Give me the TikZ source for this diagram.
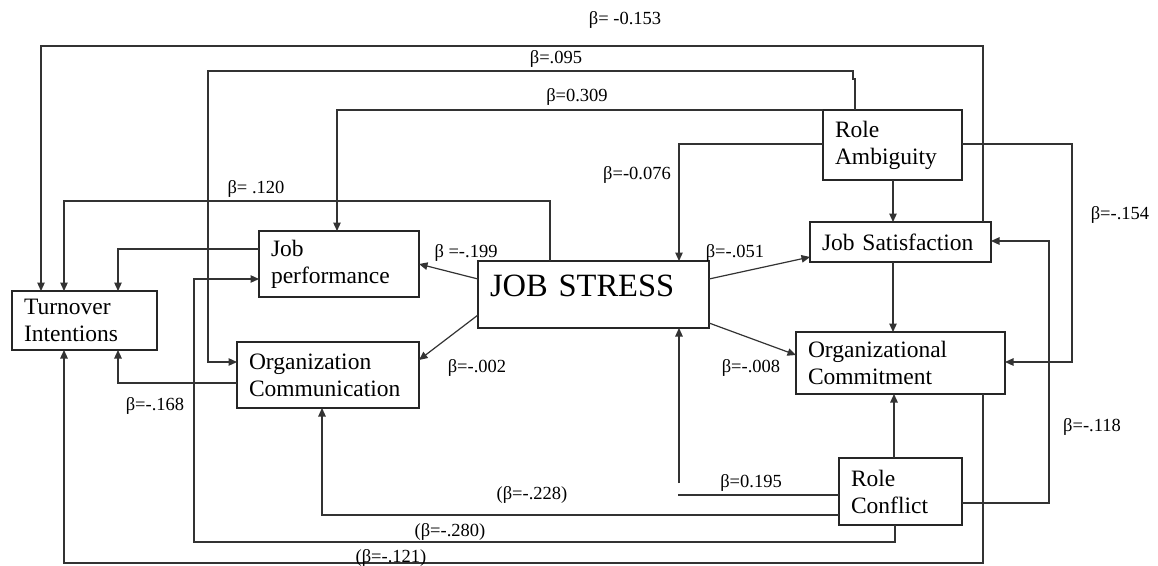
\documentclass[tikz,border=0pt]{standalone}
\usepackage{fontspec}
\setmainfont{Liberation Serif}
\usetikzlibrary{arrows.meta}
\begin{document}
\begin{tikzpicture}[x=1pt,y=-1pt,
  box/.style={draw=black!85, line width=1.2pt, anchor=north west, outer sep=0pt, inner xsep=12pt, inner ysep=0pt, align=left, font=\fontsize{23.5}{27}\selectfont},
  conn/.style={draw=black!80, line width=1.2pt},
  arr/.style={conn, -{Triangle[length=8.5pt,width=7.5pt]}},
  lbl/.style={anchor=base, inner sep=0pt, font=\fontsize{18.5}{20}\selectfont}]
\useasboundingbox[fill=white] (0,0) rectangle (1158,565);

% boxes
\node[box, text width=121pt, minimum height=59pt] (ti) at (12,291) {Turnover\\Intentions};
\node[box, text width=136pt, minimum height=66pt] (jp) at (259,231) {Job\\performance};
\node[box, text width=158pt, minimum height=66pt] (oc) at (237,342) {Organization\\Communication};
\node[box, text width=207pt, minimum height=67pt, font=\fontsize{32.5}{36}\selectfont, text height=22pt, text depth=19pt] (js) at (478,261) {JOB STRESS};
\node[box, text width=115pt, minimum height=70pt] (ra) at (823,110) {Role\\Ambiguity};
\node[box, text width=157pt, minimum height=40pt] (jsat) at (810,222) {Job Satisfaction};
\node[box, text width=185pt, minimum height=62pt] (ocm) at (796,332) {Organizational\\Commitment};
\node[box, text width=99pt, minimum height=67pt] (rc) at (839,458) {Role\\Conflict};

\coordinate (gapend) at (678,495);
\coordinate (gapstart) at (679,483);

% connectors
\draw[arr] (983,0 |- jsat.north) |- (41,46) -- (41,0 |- ti.north);
\draw[arr] (855,0 |- ra.north) -- (855,79) -- (853,79) |- (208,71) |- (oc.west |- 0,362);
\draw[arr] (ra.north west) -- (337,110) -- (337,0 |- jp.north);
\draw[arr] (ra.west |- 0,144) -| (679,0 |- js.north);
\draw[arr] (550,0 |- js.north) |- (64,201) -- (64,0 |- ti.north);
\draw[arr] (jp.west |- 0,249) -| (118,0 |- ti.north);
\draw[arr] (js.west |- 0,279) -- (jp.east |- 0,264);
\draw[arr] (js.west |- 0,315) -- (oc.east |- 0,360);
\draw[arr] (js.east |- 0,279) -- (jsat.west |- 0,257);
\draw[arr] (js.east |- 0,323) -- (ocm.west |- 0,355);
\draw[arr] (893,0 |- ra.south) -- (893,0 |- jsat.north);
\draw[arr] (893,0 |- jsat.south) -- (893,0 |- ocm.north);
\draw[arr] (ra.east |- 0,144) -| (1072,362) -- (ocm.east |- 0,362);
\draw[arr] (rc.east |- 0,503) -| (1049,241) -- (jsat.east |- 0,241);
\draw[arr] (894,0 |- rc.north) -- (894,0 |- ocm.south);
\draw[conn] (rc.west |- gapend) -- (gapend);
\draw[arr] (gapstart) -- (679,0 |- js.south);
\draw[arr] (rc.west |- 0,515) -| (322,0 |- oc.south);
\draw[arr] (895,0 |- rc.south) |- (194,542) |- (jp.west |- 0,279);
\draw[arr] (983,0 |- ocm.south) |- (64,563) -- (64,0 |- ti.south);
\draw[arr] (oc.west |- 0,383) -| (118,0 |- ti.south);

% labels
\node[lbl] (l1) at (625,24) {β= -0.153};
\node[lbl] (l2) at (556,63) {β=.095};
\node[lbl] (l3) at (577,101) {β=0.309};
\node[lbl] (l4) at (637,179) {β=-0.076};
\node[lbl] (l5) at (256,193) {β= .120};
\node[lbl] (l6) at (466,257) {β =-.199};
\node[lbl] (l7) at (735,257) {β=-.051};
\node[lbl] (l8) at (477,372) {β=-.002};
\node[lbl] (l9) at (751,372) {β=-.008};
\node[lbl] (l10) at (1120,219) {β=-.154};
\node[lbl] (l11) at (1092,431) {β=-.118};
\node[lbl] (l12) at (751,487) {β=0.195};
\node[lbl] (l13) at (532,499) {(β=-.228)};
\node[lbl] (l14) at (450,536) {(β=-.280)};
\node[lbl] (l15) at (391,562) {(β=-.121)};
\node[lbl] (l16) at (155,410) {β=-.168};
\end{tikzpicture}
\end{document}
